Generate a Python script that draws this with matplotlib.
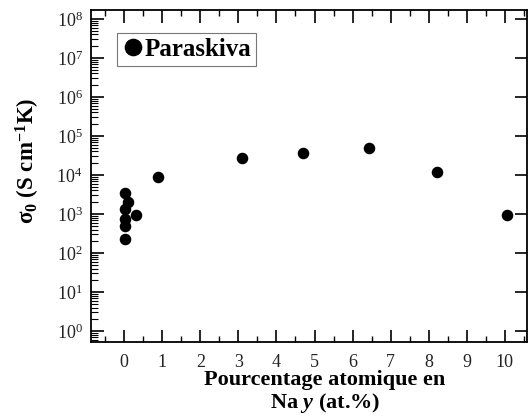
import matplotlib
matplotlib.use("Agg")
import matplotlib.pyplot as plt
import matplotlib.ticker as mticker
import numpy as np

plt.rcParams['font.family'] = ['Liberation Serif', 'DejaVu Serif']
plt.rcParams['mathtext.fontset'] = 'custom'
plt.rcParams['mathtext.rm'] = 'Liberation Serif'
plt.rcParams['mathtext.bf'] = 'Liberation Serif:bold'
plt.rcParams['mathtext.it'] = 'Liberation Serif:bold:italic'

# Data
na_pct = [0.01, 0.11, 0.01, 0.31, 0.01, 0.03, 0.01, 0.90, 3.09, 4.71, 6.42, 8.21, 10.06]
sigma0 = [3400, 2000, 1340, 940, 740, 500, 230, 9100, 27000, 36000, 50000, 12000, 940]
series_name = "Paraskiva"
x_ticks = [0, 1, 2, 3, 4, 5, 6, 7, 8, 9, 10]
y_ticks = [1e0, 1e1, 1e2, 1e3, 1e4, 1e5, 1e6, 1e7, 1e8]

fig = plt.figure(figsize=(5.30, 4.17), dpi=100)
ax = fig.add_axes([0.1717, 0.1799, 0.8226, 0.7973])

ax.plot(na_pct, sigma0, 'o', color='black', markersize=7.3, label=series_name)

ax.set_yscale('log')
ax.set_xlim(-0.87, 10.58)
ax.set_ylim(10**-0.28, 10**8.24)
ax.set_xticks(x_ticks)
ax.set_xticklabels([str(t) for t in x_ticks])
ax.xaxis.set_minor_locator(mticker.MultipleLocator(0.5))
ax.set_yticks(y_ticks)
ax.yaxis.set_major_formatter(mticker.LogFormatterMathtext())
ax.yaxis.set_minor_locator(mticker.LogLocator(base=10, subs=np.arange(2, 10), numticks=20))
ax.yaxis.set_minor_formatter(mticker.NullFormatter())

ax.tick_params(axis='both', which='major', direction='in', length=9, width=1.2,
               labelsize=13, top=True, right=True, labelcolor='#222222')
ax.tick_params(axis='x', which='minor', direction='in', length=4, width=1.0, top=True)
ax.tick_params(axis='y', which='minor', direction='in', length=5, width=0.8, right=False)
ax.tick_params(axis='x', which='major', pad=9)
ax.tick_params(axis='y', which='major', pad=6)
for s in ax.spines.values():
    s.set_linewidth(1.3)

ax.set_xlabel('Pourcentage atomique en\nNa $\\mathit{y}$ (at.%)', fontsize=16,
              fontweight='bold', linespacing=1.05)
ax.xaxis.set_label_coords(0.537, -0.085, transform=ax.transAxes)
ax.xaxis.label.set_verticalalignment('top')
ax.set_ylabel('$\\mathbf{σ_0}$ (S cm$^{\\mathbf{-1}}$K)', fontsize=16.5, fontweight='bold')
ax.yaxis.set_label_coords(-0.112, 0.545)

leg = ax.legend(loc='upper left', bbox_to_anchor=(0.06, 0.929), frameon=True, fancybox=False,
                prop={'weight': 'bold', 'size': 18}, handletextpad=0.0, borderpad=0.2,
                handlelength=0.9, markerscale=1.6, borderaxespad=0)
leg.get_frame().set_edgecolor('#555555')
leg.get_frame().set_linewidth(0.8)

fig.savefig('out.png', dpi=100)
